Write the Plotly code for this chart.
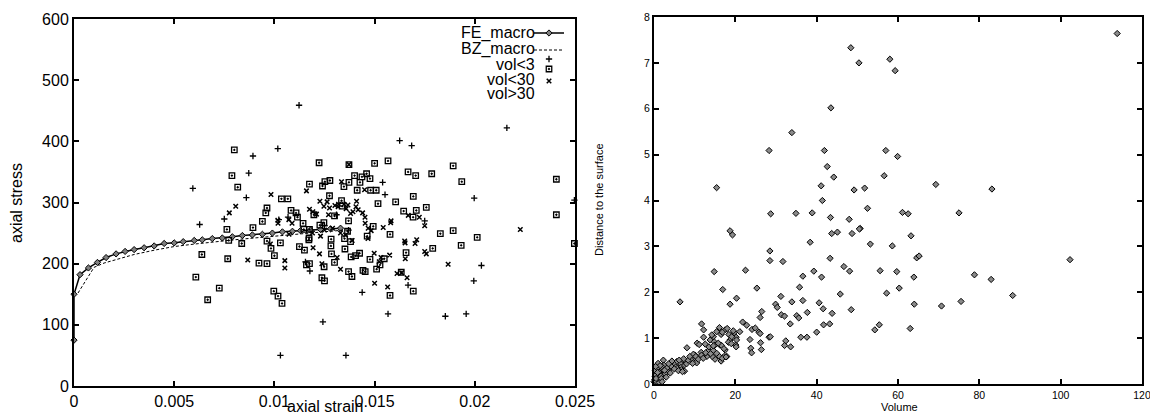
import plotly.graph_objects as go

# ---------------- Left panel data ----------------
fe_strain = [0, 0, 0.0003, 0.00072, 0.00117, 0.0016, 0.0021, 0.00255, 0.003, 0.0035, 0.004, 0.0045,
             0.005, 0.00545, 0.006, 0.0064, 0.0069, 0.0074, 0.0079, 0.0084, 0.0089, 0.0094, 0.0099,
             0.0104, 0.0109, 0.0113, 0.0118, 0.0123, 0.0128, 0.0133]
fe_stress = [75, 150, 182, 193, 202, 210, 216, 220, 223, 226, 229, 233, 234, 236, 238, 239, 241, 242,
             244, 246, 247, 248, 250, 252, 253, 254, 255, 256, 257, 258]

bz_strain = [0.0002, 0.001, 0.0015, 0.002, 0.003, 0.004, 0.005, 0.006, 0.007, 0.008, 0.009, 0.010,
             0.011, 0.012, 0.0135]
bz_stress = [152, 194, 201, 206, 215, 222, 228, 232, 236, 239, 242, 245, 248, 251, 255]

v3_strain = [0.00593, 0.00893, 0.00872, 0.0086, 0.01017, 0.01123, 0.0216, 0.01625, 0.01685, 0.0154,
             0.01552, 0.01997, 0.02497, 0.00627, 0.0075, 0.0103, 0.01022, 0.01068, 0.01177, 0.01155,
             0.01242, 0.0175, 0.02033, 0.01995, 0.01667, 0.01567, 0.01853, 0.01957, 0.01438, 0.01357,
             0.0125, 0.0131, 0.0137]
v3_stress = [323, 376, 348, 308, 388, 459, 422, 401, 393, 333, 313, 307, 304, 264, 273, 50, 272, 276,
             188, 203, 105, 270, 197, 172, 165, 118, 114, 118, 153, 50, 262, 280, 255]

v30_strain = [0.0080, 0.00788, 0.00817, 0.01035, 0.01067, 0.00963, 0.00957, 0.01083, 0.01108, 0.01115,
              0.01223, 0.01372, 0.0150, 0.01567, 0.01892, 0.01667, 0.01705, 0.01785, 0.01935, 0.02407,
              0.01175, 0.0124, 0.01252, 0.01277, 0.01347, 0.01372, 0.0140, 0.01437, 0.0146, 0.01477,
              0.01427, 0.01413, 0.0148, 0.01508, 0.01275, 0.01693, 0.01335, 0.01517, 0.01605, 0.01758,
              0.00763, 0.00893, 0.0094, 0.00772, 0.00837, 0.00963, 0.00983, 0.0103, 0.00638, 0.00767,
              0.00923, 0.00963, 0.0100, 0.00608, 0.00725, 0.00667, 0.00997, 0.01018, 0.01038, 0.01125,
              0.01143, 0.01147, 0.01175, 0.01172, 0.0115, 0.0116, 0.01175, 0.0125, 0.01237, 0.01645,
              0.01708, 0.01692, 0.01892, 0.01828, 0.02012, 0.01932, 0.0179, 0.01657, 0.01577, 0.01693,
              0.01633, 0.01577, 0.0151, 0.01527, 0.01548, 0.01477, 0.01425, 0.01383, 0.01453, 0.0137,
              0.01387, 0.01352, 0.01285, 0.0130, 0.01283, 0.01282, 0.0135, 0.0138, 0.0137, 0.01365,
              0.01463, 0.01493, 0.02407, 0.02497, 0.01197, 0.0130, 0.01338, 0.01247, 0.01227, 0.01173,
              0.01442, 0.01248, 0.01405]
v30_stress = [386, 344, 325, 306, 306, 291, 283, 287, 283, 276,
              365, 362, 364, 368, 360, 350, 344, 347, 334, 338,
              330, 327, 334, 336, 326, 333, 344, 342, 347, 339,
              333, 320, 320, 320, 311, 310, 303, 298, 301, 292,
              256, 259, 269, 238, 233, 237, 225, 234, 215, 208,
              201, 200, 213, 178, 160, 141, 155, 147, 135, 228,
              266, 256, 256, 239, 222, 198, 200, 172, 177, 286,
              287, 276, 254, 249, 243, 230, 225, 218, 248, 155,
              186, 148, 191, 198, 208, 207, 217, 211, 187, 187,
              179, 224, 216, 202, 240, 229, 241, 236, 270, 253,
              245, 261, 280, 233, 280, 278, 294, 267, 263, 242,
              189, 195, 213]

v31_strain = [0.00983, 0.00807, 0.00775, 0.0116, 0.01227, 0.01263, 0.0141, 0.0132, 0.01335, 0.01372,
              0.00867, 0.01052, 0.01052, 0.01017, 0.01073, 0.01175, 0.01192, 0.0121, 0.01247, 0.01072,
              0.01088, 0.01018, 0.0098, 0.01193, 0.01225, 0.01237, 0.0145, 0.01668, 0.01723, 0.0175,
              0.01758, 0.0175, 0.01867, 0.0165, 0.01652, 0.0171, 0.01702, 0.01653, 0.01582, 0.0158,
              0.01662, 0.01635, 0.01612, 0.01565, 0.0150, 0.01523, 0.01575, 0.01532, 0.01498, 0.0133,
              0.01313, 0.01355, 0.02227, 0.01543, 0.01468, 0.01453, 0.01452, 0.01418, 0.01392, 0.0138,
              0.01358, 0.01407, 0.01367, 0.01347, 0.01318, 0.01302, 0.01275, 0.01483, 0.01467, 0.01388,
              0.0127, 0.0129, 0.0133, 0.0125, 0.0119, 0.0123, 0.0144]
v31_stress = [313, 294, 283, 319, 302, 301, 302, 297, 334, 362,
              206, 205, 193, 271, 248, 289, 285, 281, 294, 272,
              266, 266, 232, 226, 216, 200, 321, 279, 276, 262,
              216, 220, 199, 237, 234, 239, 233, 208, 270, 267,
              177, 185, 184, 162, 168, 203, 214, 210, 217, 191,
              210, 247, 256, 259, 258, 266, 276, 288, 285, 282,
              290, 293, 296, 297, 293, 295, 291, 254, 241, 238,
              280, 258, 250, 255, 250, 245, 283]

left_xticks = [0, 0.005, 0.01, 0.015, 0.02, 0.025]
left_xticktext = ["0", "0.005", "0.01", "0.015", "0.02", "0.025"]
left_yticks = [0, 100, 200, 300, 400, 500, 600]

# ---------------- Right panel data ----------------
volume = [48.4, 50.4, 43.5, 33.9, 28.3, 41.9, 42.6, 44.2, 15.4, 41.1, 49.2, 51.8, 41.4, 52.5, 113.9,
          58.0, 59.3, 57.0, 59.9, 56.6, 69.3, 83.1,
          61.1, 62.5, 75.0, 50.7, 63.2, 53.2, 58.6, 64.6, 65.2, 102.3, 55.6, 59.7, 78.8, 63.9, 82.9,
          60.3, 57.2, 88.2, 75.5, 64.0, 70.7, 55.4, 54.3, 63.0,
          28.7, 34.9, 38.9, 43.4, 48.0, 43.7, 45.1, 48.7, 50.5, 18.7, 19.3, 28.5, 28.5, 31.7, 38.4,
          43.3, 14.8, 22.5, 39.3, 36.6, 41.2, 46.7, 48.1, 16.9, 25.3, 35.8, 45.8, 6.4, 20.3, 18.7,
          31.2, 33.9, 36.6, 29.9, 30.3, 40.6, 41.6, 48.5, 43.8, 26.5, 26.1, 37.7, 31.3, 32.1, 35.1,
          35.6, 33.5, 40.0, 41.7, 43.2, 36.1, 37.6, 32.4, 32.1, 33.6, 28.3, 28.6, 26.2, 26.4, 23.6,
          23.8, 24.0, 25.8, 26.1, 22.8, 21.8, 24.1, 24.9,
          11.7, 12.2, 8.1, 12.2, 10.6, 11.1, 13.8, 14.6, 16.2, 16.5, 17.5, 18.0, 18.4, 18.7, 19.7,
          20.2, 21.1, 20.1, 13.4, 14.2, 15.4, 16.1, 16.8, 19.5, 19.1, 20.3, 20.2, 14.8, 16.2, 17.5,
          17.2, 17.9, 16.1, 16.5, 15.0, 14.3, 13.0, 13.5, 11.6, 12.1, 10.1, 9.5, 10.5,
          9.7, 10.3, 10.9, 9.0, 7.8, 7.2, 6.4, 6.6, 5.3, 5.6, 4.7, 3.9, 3.5, 2.3, 2.1, 1.5, 1.1, 0.7,
          0.25, 0.0, 2.5, 1.9, 1.2, 1.7, 3.9, 5.7, 6.8, 7.5, 8.0, 8.4, 9.5, 11.7, 12.7, 12.1, 14.6,
          15.4, 16.8, 17.7, 16.6, 17.2, 15.0, 15.8, 14.6, 0.2, 0.5, 0.3, 0.8, 1.0, 1.5, 0.6, 1.3,
          0.5, 1.8, 2.8, 3.2, 4.3, 4.4, 5.0, 6.0, 7.0, 3.0, 2.0, 0.9, 0.4, 2.6, 3.6, 4.0, 6.2, 7.3,
          8.8, 18.3, 19.0, 12.6, 13.9]
distance = [7.33, 7.00, 6.02, 5.48, 5.09, 5.09, 4.74, 4.51, 4.28, 4.32, 4.23, 4.27, 4.00, 3.83, 7.64,
            7.08, 6.83, 5.09, 4.96, 4.54, 4.35, 4.25,
            3.74, 3.71, 3.73, 3.39, 3.23, 3.05, 3.01, 2.75, 2.79, 2.71, 2.47, 2.45, 2.38, 2.33, 2.28,
            2.09, 1.98, 1.93, 1.80, 1.74, 1.70, 1.29, 1.18, 1.21,
            3.71, 3.72, 3.73, 3.63, 3.59, 3.28, 3.31, 3.28, 3.38, 3.34, 3.25, 2.90, 2.69, 2.67, 3.09,
            2.74, 2.45, 2.48, 2.46, 2.35, 2.33, 2.56, 2.46, 2.06, 2.09, 2.11, 1.96, 1.79, 1.87, 1.74,
            1.91, 1.79, 1.82, 1.74, 1.67, 1.77, 1.64, 1.62, 1.54, 1.58, 1.45, 1.56, 1.51, 1.48, 1.49,
            1.44, 1.31, 1.13, 1.29, 1.31, 1.02, 1.02, 0.94, 0.84, 0.81, 1.02, 1.03, 0.90, 0.75, 0.97,
            0.78, 0.68, 1.13, 1.10, 1.28, 1.35, 1.19, 1.22,
            1.31, 1.18, 0.79, 1.02, 0.89, 0.86, 0.96, 1.03, 1.18, 1.08, 1.18, 1.21, 1.08, 0.96, 1.12,
            1.02, 1.14, 0.85, 0.73, 1.07, 1.14, 1.23, 1.13, 1.16, 1.03, 0.96, 0.81, 0.92, 0.85, 0.74,
            0.60, 0.60, 0.60, 0.50, 0.54, 0.60, 0.60, 0.81, 0.69, 0.63, 0.63, 0.54, 0.46,
            0.65, 0.60, 0.54, 0.54, 0.49, 0.39, 0.45, 0.36, 0.41, 0.49, 0.45, 0.34, 0.29, 0.52, 0.31,
            0.23, 0.16, 0.09, 0.16, 0.05, 0.41, 0.38, 0.26, 0.17, 0.45, 0.34, 0.31, 0.28, 0.44, 0.52,
            0.45, 0.63, 0.68, 0.56, 0.73, 0.67, 0.56, 0.59, 0.84, 0.77, 0.85, 0.89, 0.83, 0.10, 0.20,
            0.30, 0.35, 0.45, 0.40, 0.05, 0.03, 0.12, 0.12, 0.22, 0.35, 0.38, 0.50, 0.33, 0.29, 0.27,
            0.15, 0.05, 0.25, 0.38, 0.30, 0.44, 0.24, 0.52, 0.55, 0.60, 0.91, 0.88, 0.87, 0.66]

right_xticks = [0, 20, 40, 60, 80, 100, 120]
right_yticks = [0, 1, 2, 3, 4, 5, 6, 7, 8]

legend_labels = ["FE_macro", "BZ_macro", "vol<3", "vol<30", "vol>30"]

FONT = "Liberation Sans, Arial, Helvetica, sans-serif"
# page body has an 8px margin: figure is sized to fit the 1158x415 window
OX, OY = 8, 8
W, H = 1158 - OX, 415 - OY


def px(x):
    return (x - OX) / W


def py(y):
    return 1 - (y - OY) / H


fig = go.Figure()

fig.add_trace(go.Scatter(x=fe_strain, y=fe_stress, mode="lines+markers", name="",
                         line=dict(color="black", width=1.5),
                         marker=dict(symbol="diamond", size=4.8, color="#7f7f7f",
                                     line=dict(color="black", width=1)),
                         xaxis="x", yaxis="y", cliponaxis=False, legend="legend"))
fig.add_trace(go.Scatter(x=bz_strain, y=bz_stress, mode="lines", name="",
                         line=dict(color="black", width=1, dash="3px,2px"),
                         xaxis="x", yaxis="y", legend="legend2"))
fig.add_trace(go.Scatter(x=v3_strain, y=v3_stress, mode="markers", name="",
                         marker=dict(symbol="cross-thin-open", size=4.5, color="black",
                                     line=dict(color="black", width=1.3)),
                         xaxis="x", yaxis="y", cliponaxis=False, legend="legend3"))
fig.add_trace(go.Scatter(x=v30_strain, y=v30_stress, mode="markers", name="",
                         marker=dict(symbol="square-open-dot", size=5.5, color="black",
                                     line=dict(color="black", width=1.3)),
                         xaxis="x", yaxis="y", cliponaxis=False, legend="legend4"))
fig.add_trace(go.Scatter(x=v31_strain, y=v31_stress, mode="markers", name="",
                         marker=dict(symbol="x-thin-open", size=4.5, color="black",
                                     line=dict(color="black", width=1.5)),
                         xaxis="x", yaxis="y", cliponaxis=False, legend="legend5"))

fig.add_trace(go.Scatter(x=volume, y=distance, mode="markers", showlegend=False,
                         marker=dict(symbol="diamond", size=4.8, color="#8a8a8a",
                                     line=dict(color="black", width=1)),
                         xaxis="x2", yaxis="y2", cliponaxis=False))

axis_common = dict(showline=True, linewidth=2, linecolor="black", mirror="allticks",
                   ticks="inside", ticklen=5, tickwidth=1.5, tickcolor="black",
                   showgrid=False, zeroline=False, automargin=False)

legend_sym_y = [33, 50, 59, 69, 81]
legend_layout = {}
for i, yy in enumerate(legend_sym_y):
    key = "legend" if i == 0 else f"legend{i + 1}"
    legend_layout[key] = dict(x=px(529), xanchor="left", y=py(yy), yanchor="middle",
                              bgcolor="rgba(0,0,0,0)", font=dict(size=10), itemwidth=30)

fig.update_layout(
    width=W, height=H,
    margin=dict(l=0, r=0, t=0, b=0, autoexpand=False),
    paper_bgcolor="white", plot_bgcolor="white",
    font=dict(family=FONT, color="black"),
    showlegend=True,
    xaxis=dict(domain=[px(74), px(575)], range=[0, 0.025], tickvals=left_xticks,
               ticktext=left_xticktext, tickfont=dict(size=16), anchor="y", **axis_common),
    yaxis=dict(domain=[py(386), py(19)], range=[0, 600], tickvals=left_yticks,
               tickfont=dict(size=16), anchor="x", **axis_common),
    xaxis2=dict(domain=[px(654), px(1142)], range=[0, 120], tickvals=right_xticks,
                tickfont=dict(size=10.5), anchor="y2", **axis_common),
    yaxis2=dict(domain=[py(384), py(17)], range=[0, 8], tickvals=right_yticks,
                tickfont=dict(size=10.5), anchor="x2", **axis_common),
    **legend_layout,
)

annotations = [
    dict(text="axial stress", x=px(16), y=py(203), textangle=-90, font=dict(size=16)),
    dict(text="axial strain", x=px(325), y=py(406), font=dict(size=16)),
    dict(text="Distance to the surface", x=px(599), y=py(200), textangle=-90,
         font=dict(size=11)),
    dict(text="Volume", x=px(899), y=py(407), font=dict(size=11)),
]
label_y = [33, 49, 64, 79, 94]
for lab, yy in zip(legend_labels, label_y):
    annotations.append(dict(text=lab, x=px(537), y=py(yy), xanchor="right",
                            font=dict(size=16)))
for a in annotations:
    a.update(xref="paper", yref="paper", showarrow=False,
             xanchor=a.get("xanchor", "center"), yanchor="middle")
fig.update_layout(annotations=annotations)

fig.write_html("out.html")
